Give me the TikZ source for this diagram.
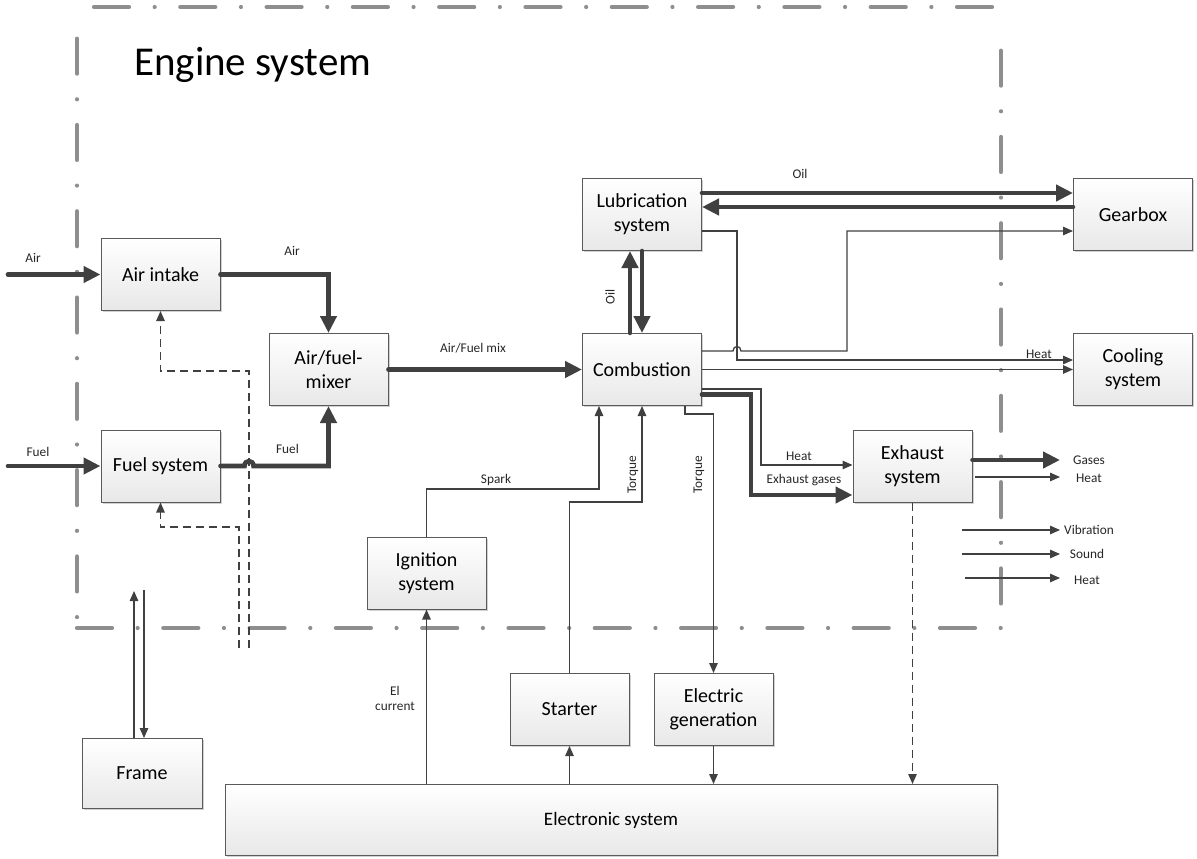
\documentclass[tikz,border=0pt]{standalone}
\usepackage{fontspec}
\setmainfont{Carlito}
\usetikzlibrary{arrows.meta,shadows}
\definecolor{lc}{HTML}{404040}
\definecolor{bnd}{HTML}{8E8E8E}
\definecolor{boxline}{HTML}{5A5A5A}
\definecolor{boxbot}{HTML}{E8E8E8}
\tikzset{
  blk/.style={draw=boxline, line width=1pt, top color=white, bottom color=boxbot,
    minimum width=119pt, minimum height=72pt, align=center, inner sep=0pt,
    font=\fontsize{20}{24}\selectfont,
    drop shadow={shadow xshift=1.5pt, shadow yshift=-1.5pt, fill=black!30, opacity=0.6}},
  lbl/.style={font=\fontsize{13.3}{16}\selectfont, text=black!85, inner sep=0pt, align=center},
  thickarr/.style={draw=lc, line width=4.6pt, line cap=round,
    -{Triangle[length=17pt,width=16pt]}},
  thinarr/.style={draw=lc, line width=1.3pt, -{Triangle[length=10pt,width=8.5pt]}},
  dasharr/.style={draw=lc, line width=1.3pt, dash pattern=on 8pt off 5pt,
    -{Triangle[length=10pt,width=8.5pt]}},
  border/.style={draw=bnd, line width=4.2pt, line cap=round,
    dash pattern=on 35pt off 25.65pt on 0pt off 25.65pt}
}
\begin{document}
\begin{tikzpicture}[x=1pt,y=-1pt]
\useasboundingbox (0,0) rectangle (1197,859);

% engine system boundary (dash-dot frame)
\draw[border] (94,7) -- (1000,7);
\draw[border, dash phase=60.65pt] (77,13) -- (77,628);
\draw[border, dash phase=60.65pt] (1001,25) -- (1001,628);
\draw[border] (77,628) -- (1002,628);
\node[anchor=base west, font=\fontsize{41}{48}\selectfont, inner sep=0pt] (title) at (134,75) {Engine system};

% blocks
\node[blk] (air)   at (160.5,274.5) {Air intake};
\node[blk] (mix)   at (328.5,369.5) {Air/fuel-\\mixer};
\node[blk] (fuel)  at (160.5,466)   {Fuel system};
\node[blk] (lub)   at (642,214.5)   {Lubrication\\system};
\node[blk] (comb)  at (642,369.5)   {Combustion};
\node[blk] (gear)  at (1133,214.5)  {Gearbox};
\node[blk] (cool)  at (1133,369.5)  {Cooling\\system};
\node[blk] (exh)   at (912.5,466)   {Exhaust\\system};
\node[blk] (ign)   at (426.5,573)   {Ignition\\system};
\node[blk] (start) at (569.5,709.5) {Starter};
\node[blk] (gen)   at (713.5,709.5) {Electric\\generation};
\node[blk, minimum width=120pt, minimum height=70pt] (frame) at (142,773.5) {Frame};
\node[blk, minimum width=772pt, minimum height=71pt, font=\fontsize{19}{23}\selectfont] (elec) at (611,820) {Electronic system};

% inputs
\coordinate (airin)  at (8,274.5);
\coordinate (fuelin) at (8,466);
\draw[thickarr] (airin) -- (air.west);
\draw[thickarr] (fuelin) -- (fuel.west);
\node[lbl] (lairin) at (33,258) {Air};
\node[lbl] (lfuelin) at (38,452) {Fuel};

% air and fuel into the mixer
\draw[thickarr] (air.east) -| (mix.north);
\node[lbl] (lair) at (292,251) {Air};
\draw[thickarr] (fuel.east) -- (244.5,466) .. controls (244.5,459.5) and (253.5,459.5) .. (253.5,466) -| (mix.south);
\node[lbl] (lfuel) at (287.5,449) {Fuel};

% mixture into combustion
\draw[thickarr] (mix.east) -- (comb.west);
\node[lbl] (lmix) at (473,348) {Air/Fuel mix};

% oil between lubrication and combustion
\draw[thickarr] ([xshift=-12pt]comb.north) -- ([xshift=-12pt]lub.south);
\draw[thickarr] (lub.south) -- (comb.north);
\node[lbl, rotate=90] (loil1) at (610,297) {Oil};

% oil between lubrication and gearbox
\draw[thickarr] (lub.east |- 0,193) -- (gear.west |- 0,193);
\draw[thickarr] (gear.west |- 0,207) -- (lub.east |- 0,207);
\node[lbl] (loil2) at (800,174) {Oil};

% heat to cooling system and torque to gearbox
\draw[thinarr] (lub.east |- 0,231) -| (737,360) -- (cool.west |- 0,360);
\node[lbl] (lheat1) at (1039,354) {Heat};
\draw[thinarr] (comb.east |- 0,351) -- (733,351) .. controls (733,345) and (741,345) .. (741,351) -| (847,231) -- (gear.west |- 0,231);
\draw[thinarr] (comb.east) -- (cool.west);

% combustion to exhaust
\draw[thinarr] (comb.east |- 0,389) -| (761,465) -- (exh.west |- 0,465);
\node[lbl] (lheat2) at (799,456) {Heat};
\draw[thickarr] (comb.east |- 0,394.5) -| (751,495) -- (exh.west |- 0,495);
\node[lbl] (lexg) at (804,480) {Exhaust gases};

% exhaust outputs
\coordinate (gasout)  at (1060,460);
\coordinate (heatout) at (1060,477);
\draw[thickarr] (exh.east |- gasout) -- (gasout);
\draw[thinarr] (975,477) -- (heatout);
\node[lbl] (lgas) at (1089,460) {Gases};
\node[lbl] (lheat3) at (1089,478) {Heat};

% emissions
\coordinate (vib0) at (962,530);  \coordinate (vib1) at (1060,530);
\coordinate (snd0) at (962,554);  \coordinate (snd1) at (1060,554);
\coordinate (hea0) at (965,578);  \coordinate (hea1) at (1060,578);
\draw[thinarr] (vib0) -- (vib1);
\draw[thinarr] (snd0) -- (snd1);
\draw[thinarr] (hea0) -- (hea1);
\node[lbl, anchor=west] (lvib) at (1064,530) {Vibration};
\node[lbl] (lsnd) at (1087,554) {Sound};
\node[lbl] (lhea) at (1087,580) {Heat};

% torque and spark into/out of combustion
\draw[thinarr] (685,0 |- comb.south) -- (685,414) -| (gen.north);
\node[lbl, rotate=90] (ltq2) at (699,475) {Torque};
\draw[thinarr] (start.north) |- (642,502) -- (comb.south);
\node[lbl, rotate=90] (ltq1) at (633,475) {Torque};
\draw[thinarr] (ign.north) |- (599,489) -- (599,0 |- comb.south);
\node[lbl] (lspark) at (496,480) {Spark};

% electronic system links
\draw[thinarr] (ign.south |- elec.north) -- (ign.south);
\node[lbl] (lel) at (395,698) {El\\[-1pt]current};
\draw[thinarr] (start.south |- elec.north) -- (start.south);
\draw[thinarr] (gen.south) -- (gen.south |- elec.north);
\draw[dasharr] (exh.south) -- (exh.south |- elec.north);

% frame
\coordinate (fup)   at (134,591);
\coordinate (fdown) at (144,590);
\draw[thinarr] (134,0 |- frame.north) -- (fup);
\draw[thinarr] (fdown) -- (144,0 |- frame.north);

% control feedback (dashed)
\coordinate (dair)  at (249,648);
\coordinate (dfuel) at (239,648);
\draw[dasharr] (dair) |- (160.5,371) -- (air.south);
\draw[dasharr] (dfuel) |- (160.5,527) -- (fuel.south);
\end{tikzpicture}
\end{document}
